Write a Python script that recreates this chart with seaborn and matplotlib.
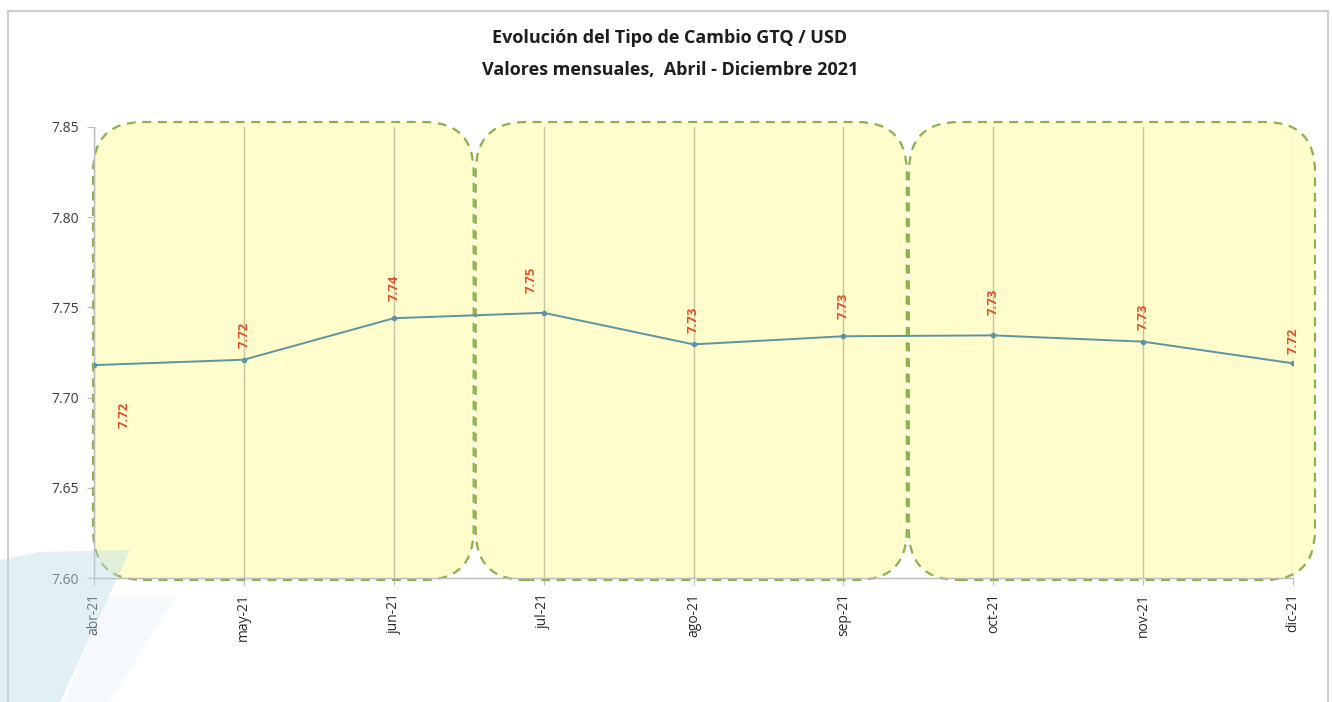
import numpy as np
import pandas as pd
import matplotlib.pyplot as plt
import seaborn as sns
from matplotlib.patches import FancyBboxPatch, Rectangle, Polygon

# data
months = ["abr-21", "may-21", "jun-21", "jul-21", "ago-21",
          "sep-21", "oct-21", "nov-21", "dic-21"]
rates = [7.718, 7.721, 7.744, 7.747, 7.7295, 7.734, 7.7345, 7.731, 7.719]
y_ticks = [7.60, 7.65, 7.70, 7.75, 7.80, 7.85]
# quarter groups (first, last month index)
groups = [(0, 2), (3, 5), (6, 8)]

# label offsets in points (dx, dy)
label_offsets = [(22, -36), (0, 18), (0, 22), (-9, 24), (0, 18),
                 (0, 22), (0, 24), (0, 18), (0, 16)]

sns.set_theme(style="white")
plt.rcParams["font.family"] = ["Open Sans", "DejaVu Sans"]

W, H = 1332, 702
fig = plt.figure(figsize=(W / 100, H / 100), dpi=100)
ax = fig.add_axes([94 / W, 1 - 578 / H, (1293 - 94) / W, (578 - 127) / H])

df = pd.DataFrame({"x": np.arange(len(months)), "rate": rates})
ax.set_xlim(0, len(months) - 1)
ax.set_ylim(y_ticks[0], y_ticks[-1])

# px per data unit, to keep round corners circular
px_x = ax.bbox.width / (len(months) - 1)
px_y = ax.bbox.height / (y_ticks[-1] - y_ticks[0])
aspect = px_x / px_y

# rounded quarter boxes
edges = [-2 / px_x, 2.54, 5.43, 8 + 23 / px_x]
top = y_ticks[-1] + 5 / px_y
bottom = y_ticks[0] - 2 / px_y
r = 50 / px_x
for i in range(len(groups)):
    x0, x1 = edges[i] + 1 / px_x, edges[i + 1] - 1 / px_x
    box = FancyBboxPatch((x0, bottom), x1 - x0, top - bottom,
                         boxstyle=f"round,pad=0,rounding_size={r}",
                         mutation_aspect=aspect,
                         facecolor="#FEFDCB", edgecolor="#8DB04F",
                         linestyle=(0, (4, 3)), linewidth=1.6,
                         zorder=1, clip_on=False)
    ax.add_patch(box)

# vertical gridlines
for xi in range(len(months)):
    ax.axvline(xi, color="#C4C4A0", linewidth=1.0, zorder=1.5)

sns.lineplot(data=df, x="x", y="rate", ax=ax, color="#5E93A2",
             linewidth=1.4, marker="o", markersize=4,
             markeredgewidth=0, zorder=3)

for xi, (v, (dx, dy)) in enumerate(zip(rates, label_offsets)):
    ax.annotate(f"{v:.2f}", (xi, v), xytext=(dx, dy),
                textcoords="offset points", rotation=90,
                ha="center", va="center", fontsize=9.5, fontweight="bold",
                color="#E0522A", zorder=4)

ax.set_xticks(range(len(months)))
ax.set_xticklabels(months, rotation=90, fontsize=10, color="#2A2A2A")
ax.set_yticks(y_ticks)
ax.set_yticklabels([f"{t:.2f}" for t in y_ticks], fontsize=10, color="#3A3A3A")
ax.tick_params(axis="both", length=5, width=0.8, color="#BBBBBB",
               bottom=True, left=True, pad=6)
ax.set_xlabel("")
ax.set_ylabel("")
for s in ["top", "right"]:
    ax.spines[s].set_visible(False)
for s in ["left", "bottom"]:
    ax.spines[s].set_color("#BBBBBB")
    ax.spines[s].set_linewidth(1.0)
ax.patch.set_alpha(0)

fig.text(670 / W, 1 - 38 / H, "Evolución del Tipo de Cambio GTQ / USD",
         ha="center", va="center", fontsize=13, fontweight="bold", color="#1E1E1E")
fig.text(670 / W, 1 - 70 / H, "Valores mensuales,  Abril - Diciembre 2021",
         ha="center", va="center", fontsize=13, fontweight="bold", color="#1E1E1E")

# outer frame of the chart area
fig.patches.append(Rectangle((8 / W, -0.05), 1320 / W, 1.05 - 11 / H,
                             transform=fig.transFigure, facecolor="none",
                             edgecolor="#CFCFCF", linewidth=1.5, zorder=0))

# light blue watermark bottom-left
def px_poly(pts, color, alpha):
    return Polygon([(x / W, 1 - y / H) for x, y in pts], closed=True,
                   transform=fig.transFigure, facecolor=color,
                   edgecolor="none", alpha=alpha, zorder=5)

fig.patches.append(px_poly([(0, 560), (40, 552), (130, 550), (60, 702), (0, 702)],
                           "#BFDCEB", 0.45))
fig.patches.append(px_poly([(105, 597), (175, 597), (110, 702), (65, 702)],
                           "#DCEAF3", 0.25))

fig.savefig("out.png", dpi=100)
